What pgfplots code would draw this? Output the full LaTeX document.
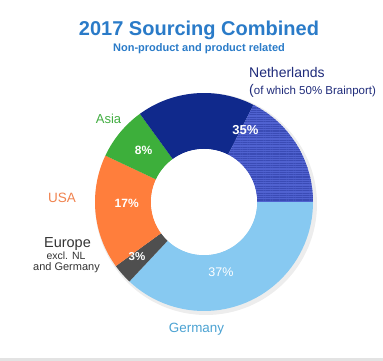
\documentclass[border=0pt]{standalone}
\usepackage{pgfplots}
\pgfplotsset{compat=1.18}
\usepackage{pgfplotstable}
\usetikzlibrary{patterns.meta}
\usepackage{fontspec}
\setmainfont{Liberation Sans}
\definecolor{titleblue}{HTML}{2A7BC8}
\definecolor{nldark}{HTML}{10298C}
\definecolor{nlhatch}{HTML}{5062D0}
\definecolor{nlline}{HTML}{3A4BB5}
\definecolor{germany}{HTML}{87C9F1}
\definecolor{europe}{HTML}{4F4F4F}
\definecolor{usa}{HTML}{FF7E3C}
\definecolor{asia}{HTML}{3DAF3B}
\definecolor{nllabel}{HTML}{1F2B7A}
\definecolor{asialabel}{HTML}{42AD42}
\definecolor{usalabel}{HTML}{F0834F}
\definecolor{eulabel}{HTML}{333333}
\definecolor{gerlabel}{HTML}{4BA2D2}

% shares in percent, clockwise from 3 o'clock
\pgfplotstableread{
region share
Germany 37
Europe 3
USA 17
Asia 8
NL 17.5
Brainport 17.5
}\sharetable

\newcommand\cx{204}
\newcommand\cy{159}
\newcommand\Ro{109}
\newcommand\Ri{53}
\newcommand\donutseg[3]{%
  \fill[#3] (axis cs:{\cx+\Ro*cos(#1)},{\cy+\Ro*sin(#1)})
    arc[start angle=#1,end angle=#2,radius=\Ro pt]
    -- (axis cs:{\cx+\Ri*cos(#2)},{\cy+\Ri*sin(#2)})
    arc[start angle=#2,end angle=#1,radius=\Ri pt] -- cycle;}

\begin{document}%
\begin{tikzpicture}
\pgfplotstablegetelem{0}{share}\of\sharetable\edef\sGer{\pgfplotsretval}
\pgfplotstablegetelem{1}{share}\of\sharetable\edef\sEur{\pgfplotsretval}
\pgfplotstablegetelem{2}{share}\of\sharetable\edef\sUSA{\pgfplotsretval}
\pgfplotstablegetelem{3}{share}\of\sharetable\edef\sAsia{\pgfplotsretval}
\pgfplotstablegetelem{4}{share}\of\sharetable\edef\sNL{\pgfplotsretval}
\pgfplotstablegetelem{5}{share}\of\sharetable\edef\sBP{\pgfplotsretval}
\pgfmathsetmacro\aA{0}
\pgfmathsetmacro\aB{\aA-3.6*\sGer}
\pgfmathsetmacro\aC{\aB-3.6*\sEur}
\pgfmathsetmacro\aD{\aC-3.6*\sUSA}
\pgfmathsetmacro\aE{\aD-3.6*\sAsia}
\pgfmathsetmacro\aF{\aE-3.6*\sNL}
\pgfmathsetmacro\aG{\aF-3.6*\sBP}
\begin{axis}[
  x=1pt, y=1pt, xmin=0, xmax=383, ymin=0, ymax=361,
  scale only axis, hide axis, clip=false, ticks=none,
]
\path (axis cs:0,0) rectangle (axis cs:383,361);
\fill[gray!22] (axis cs:0,0) rectangle (axis cs:383,3);
% soft shadow
\fill[black,opacity=0.07] (axis cs:206,157) circle[radius=111pt];
\donutseg{\aA}{\aB}{germany}
\donutseg{\aB}{\aC}{europe}
\donutseg{\aC}{\aD}{usa}
\donutseg{\aD}{\aE}{asia}
\donutseg{\aE}{\aF}{nldark}
\donutseg{\aF}{\aG}{nlhatch}
\donutseg{\aF}{\aG}{pattern={Lines[angle=0,distance=2.3pt,line width=1.1pt]},pattern color=nlline}
\fill[white] (axis cs:\cx,\cy) circle[radius=\Ri pt];
% titles
\node[anchor=base,font=\fontsize{20}{24}\selectfont\bfseries,text=titleblue,inner sep=0pt] at (axis cs:199,325.3) {2017 Sourcing Combined};
\node[anchor=base,font=\fontsize{11}{13}\selectfont\bfseries,text=titleblue,inner sep=0pt] at (axis cs:199,309.3) {Non-product and product related};
% category labels
\node[anchor=base west,font=\fontsize{14}{16}\selectfont,text=nllabel,inner sep=0pt] at (axis cs:249,283) {Netherlands};
\node[anchor=base west,font=\fontsize{11.5}{14}\selectfont,text=nllabel,inner sep=0pt] at (axis cs:249,266) {{\fontsize{14}{14}\selectfont(}of which 50\% Brainport)};
\node[anchor=base,font=\fontsize{13}{15}\selectfont,text=asialabel,inner sep=0pt] at (axis cs:108.5,237) {Asia};
\node[anchor=base,font=\fontsize{13.5}{15}\selectfont,text=usalabel,inner sep=0pt] at (axis cs:62,158) {USA};
\node[anchor=base,font=\fontsize{14.5}{16}\selectfont,text=eulabel,inner sep=0pt] at (axis cs:67.5,113) {Europe};
\node[anchor=base,font=\fontsize{10.5}{12}\selectfont,text=eulabel,inner sep=0pt] at (axis cs:66,101) {excl. NL};
\node[anchor=base,font=\fontsize{11}{12}\selectfont,text=eulabel,inner sep=0pt] at (axis cs:66.5,90.5) {and Germany};
\node[anchor=base,font=\fontsize{13.4}{15}\selectfont,text=gerlabel,inner sep=0pt] at (axis cs:196.5,28) {Germany};
% percentages
\node[font=\fontsize{13}{15}\selectfont\bfseries,text=white,inner sep=0pt] at (axis cs:245.5,231) {35\%};
\node[font=\fontsize{12}{14}\selectfont\bfseries,text=white,inner sep=0pt] at (axis cs:143.5,211) {8\%};
\node[font=\fontsize{12}{14}\selectfont\bfseries,text=white,inner sep=0pt] at (axis cs:126.7,158) {17\%};
\node[font=\fontsize{11.5}{14}\selectfont\bfseries,text=white,inner sep=0pt] at (axis cs:137,104) {3\%};
\node[font=\fontsize{12.5}{14}\selectfont,text=white,inner sep=0pt] at (axis cs:221,89) {37\%};
\end{axis}
\end{tikzpicture}%
\end{document}
